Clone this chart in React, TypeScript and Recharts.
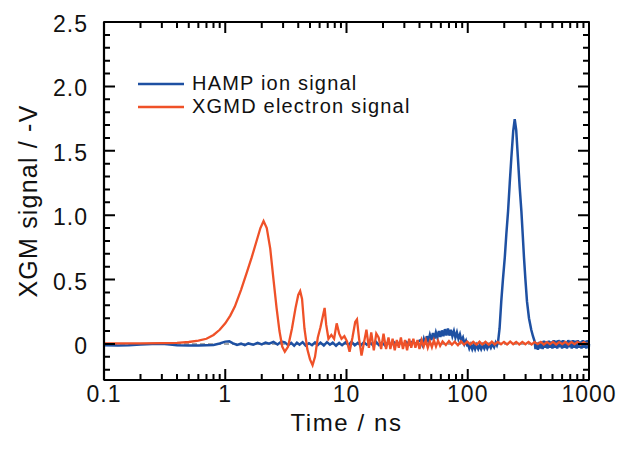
import { LineChart, Line, XAxis, YAxis, ReferenceLine, Legend } from "recharts";

// time in ns, signal in -V
const hampStart = [
  [0.1, -0.01], [0.13, -0.012], [0.16, -0.01], [0.2, -0.004], [0.25, 0], [0.3, 0.002],
  [0.35, -0.004], [0.4, -0.01], [0.5, -0.012], [0.6, -0.013], [0.7, -0.01], [0.8, -0.008],
  [0.9, 0.004], [1.0, 0.018], [1.08, 0.02], [1.15, 0.006], [1.25, -0.008], [1.35, 0.002],
  [1.45, -0.01], [1.55, 0.004], [1.7, -0.006], [1.85, 0.008], [2.0, -0.004], [2.15, 0.01],
  [2.3, 0.002], [2.5, 0.016], [2.7, -0.004], [2.9, 0.018],
];

const hampNoise = [
  [3.1, 0.012], [3.3, -0.01], [3.5, 0.008], [3.7, -0.014], [3.9, 0.01], [4.1, -0.006],
  [4.35, 0.014], [4.6, -0.012], [4.9, 0.006], [5.2, -0.01], [5.5, 0.012], [5.8, -0.008],
  [6.1, 0.01], [6.5, -0.012], [6.9, 0.014], [7.3, -0.006], [7.7, 0.01], [8.2, -0.014],
  [8.7, 0.008], [9.2, -0.01], [9.8, 0.012], [10.4, -0.008], [11, 0.016], [11.7, -0.01],
  [12.4, 0.008], [13.1, -0.012], [13.9, 0.014], [14.7, -0.006], [15.6, 0.012], [16.5, -0.01],
  [17.5, 0.016], [18.5, -0.008], [19.6, 0.01], [20.8, -0.012], [22, 0.014], [23.3, -0.006],
  [24.7, 0.012], [26.2, -0.004], [27.8, 0.016], [29.4, -0.008], [31.2, 0.014], [33, -0.004],
  [35, 0.018], [37, 0.0], [39.2, 0.02],
];

const hampBump = [
  [41, 0.03], [42.2, -0.005], [43.4, 0.04], [44.7, 0.0], [46, 0.06], [47.3, 0.02],
  [48.7, 0.07], [50.1, 0.03], [51.6, 0.085], [53.1, 0.04], [54.6, 0.09], [56.2, 0.05],
  [57.8, 0.1], [59.5, 0.055], [61.2, 0.105], [63, 0.06], [64.8, 0.115], [66.7, 0.065],
  [68.6, 0.12], [70.6, 0.065], [72.6, 0.11], [74.7, 0.06], [76.9, 0.1], [79.1, 0.05],
  [81.4, 0.09], [83.8, 0.04], [86.2, 0.075], [88.7, 0.025], [91.3, 0.05], [94, 0.0],
  [96.7, 0.025], [99.5, -0.02],
];

const hampDip = [
  [100.5, 0.0], [103, -0.035], [106, -0.005], [109, -0.04], [112, -0.01], [115, -0.04],
  [118, -0.008], [122, -0.038], [125, -0.01], [129, -0.04], [133, -0.008], [137, -0.035],
  [141, -0.005], [145, -0.035], [150, -0.005], [155, -0.03], [160, 0.0], [165, -0.025],
  [170, 0.01], [174, -0.01],
];

const hampPeak = [
  [178, 0.02], [183, 0.12], [189, 0.33], [195, 0.5], [202, 0.67], [208, 0.85],
  [215, 1.03], [222, 1.25], [229, 1.45], [237, 1.65], [244, 1.745], [251, 1.66],
  [259, 1.45], [268, 1.22], [277, 1.03], [284, 0.85], [291, 0.67], [299, 0.5],
  [308, 0.33], [320, 0.2], [334, 0.11], [345, 0.06], [356, 0.02],
];

const hampTail = [
  [362, -0.04], [370, 0.01], [379, -0.045], [388, 0.015], [397, -0.035], [406, 0.02],
  [415, -0.04], [425, 0.025], [435, -0.03], [445, 0.02], [455, -0.035], [466, 0.025],
  [477, -0.03], [488, 0.02], [499, -0.035], [511, 0.03], [523, -0.03], [535, 0.025],
  [547, -0.035], [560, 0.03], [573, -0.025], [586, 0.025], [600, -0.035], [614, 0.03],
  [628, -0.03], [643, 0.02], [658, -0.035], [673, 0.03], [689, -0.025], [705, 0.025],
  [721, -0.035], [738, 0.03], [755, -0.03], [773, 0.025], [791, -0.035], [809, 0.03],
  [828, -0.03], [847, 0.02], [867, -0.035], [887, 0.03], [908, -0.03], [929, 0.025],
  [951, -0.035], [973, 0.03], [995, -0.03], [1000, 0.0],
];

const xgmdPulse = [
  [0.1, 0.004], [0.2, 0.005], [0.3, 0.006], [0.4, 0.008], [0.5, 0.015], [0.6, 0.025],
  [0.7, 0.04], [0.8, 0.07], [0.9, 0.11], [1.0, 0.16], [1.1, 0.22], [1.2, 0.29],
  [1.35, 0.42], [1.5, 0.55], [1.65, 0.67], [1.8, 0.79], [1.95, 0.9], [2.07, 0.955],
  [2.2, 0.9], [2.35, 0.74], [2.5, 0.5], [2.65, 0.28], [2.8, 0.1], [2.95, -0.02],
  [3.1, -0.06], [3.3, -0.02], [3.55, 0.12], [3.8, 0.28], [4.0, 0.38], [4.15, 0.41],
  [4.3, 0.35], [4.5, 0.12], [4.75, -0.04], [5.0, -0.12], [5.25, -0.165], [5.5, -0.1],
  [5.8, 0.05], [6.1, 0.13], [6.4, 0.22], [6.6, 0.28], [6.8, 0.15], [7.1, 0.04],
];

const xgmdRinging = [
  [7.5, 0.07], [7.9, 0.04], [8.3, 0.16], [8.7, 0.08], [9.1, 0.04], [9.6, 0.06],
  [10.1, 0.02], [10.6, -0.06], [11.2, 0.05], [11.8, 0.17], [12.2, 0.19], [12.7, 0.04],
  [13.3, -0.09], [14, 0.02], [14.6, 0.11], [15.3, -0.03], [16, 0.09], [16.8, -0.05],
  [17.6, 0.08], [18.4, 0.05], [19.3, -0.04], [20.2, 0.08], [21.2, -0.04], [22.2, 0.05],
];

const xgmdTail = [
  [23, -0.04], [24, 0.04], [25, -0.05], [26, 0.03], [27, -0.03], [28.1, 0.05],
  [29.2, -0.04], [30.4, 0.03], [31.6, -0.05], [32.9, 0.04], [34.2, -0.03], [35.6, 0.04],
  [37, -0.03], [38.5, 0.03], [40, -0.04], [41.6, 0.03], [43.3, -0.02], [45, 0.03],
  [46.8, -0.03], [48.7, 0.02], [50.6, -0.025], [52.6, 0.03], [54.7, -0.02], [56.9, 0.025],
  [59.2, -0.015], [62, 0.02], [66, -0.008], [70, 0.022], [74, -0.006], [78, 0.018],
  [83, -0.01], [88, 0.02], [93, -0.006], [99, 0.018], [105, -0.004], [111, 0.016],
  [118, -0.006], [125, 0.018], [132, -0.004], [140, 0.016], [149, -0.006], [158, 0.018],
  [167, -0.004], [177, 0.016], [188, -0.002], [199, 0.016], [211, -0.004], [224, 0.018],
  [237, -0.002], [251, 0.016], [266, -0.004], [282, 0.016], [299, -0.002], [317, 0.016],
  [336, -0.004], [356, 0.014], [378, -0.002], [400, 0.016], [424, -0.004], [450, 0.014],
  [477, -0.002], [505, 0.016], [536, -0.004], [568, 0.014], [602, -0.002], [638, 0.016],
  [676, -0.004], [717, 0.014], [760, -0.002], [806, 0.016], [854, -0.004], [905, 0.014],
  [960, -0.002], [1000, 0.008],
];

const xTicks = [
  0.1, 0.2, 0.3, 0.4, 0.5, 0.6, 0.7, 0.8, 0.9,
  1, 2, 3, 4, 5, 6, 7, 8, 9,
  10, 20, 30, 40, 50, 60, 70, 80, 90,
  100, 200, 300, 400, 500, 600, 700, 800, 900, 1000,
];
const xLabels = [0.1, 1, 10, 100, 1000];
const yTicks = [
  -0.2, -0.1, 0, 0.1, 0.2, 0.3, 0.4, 0.5, 0.6, 0.7, 0.8, 0.9, 1.0, 1.1, 1.2, 1.3,
  1.4, 1.5, 1.6, 1.7, 1.8, 1.9, 2.0, 2.1, 2.2, 2.3, 2.4, 2.5,
];
const yLabels = [0, 0.5, 1.0, 1.5, 2.0, 2.5];
const X_DOMAIN = [0.1, 1000];
const Y_DOMAIN = [-0.28, 2.5];

// chart box
const W = 620;
const H = 460;
const MARGIN = { top: 22, right: 31, bottom: 0, left: 0 };
const Y_AXIS_W = 104;
const X_AXIS_H = 80;
const PLOT_W = W - MARGIN.left - MARGIN.right - Y_AXIS_W;
const PLOT_H = H - MARGIN.top - MARGIN.bottom - X_AXIS_H;

const toRows = (pts: number[][]) => pts.map(([t, v]) => ({ t, v }));
const hampData = toRows([...hampStart, ...hampNoise, ...hampBump, ...hampDip, ...hampPeak, ...hampTail]);
const xgmdData = toRows([...xgmdPulse, ...xgmdRinging, ...xgmdTail]);

// inward tick marks, drawn as line series that run along each frame edge
const MAJOR = 11;
const MINOR = 6;
const yPerPx = (Y_DOMAIN[1] - Y_DOMAIN[0]) / PLOT_H;
const decPerPx = Math.log10(X_DOMAIN[1] / X_DOMAIN[0]) / PLOT_W;
const xLen = (t: number) => (xLabels.includes(t) ? MAJOR : MINOR);
const yLen = (v: number) => (yLabels.includes(v) ? MAJOR : MINOR);

const bottomTicks = xTicks.flatMap((t) => [
  { t, v: Y_DOMAIN[0] },
  { t, v: Y_DOMAIN[0] + xLen(t) * yPerPx },
  { t, v: Y_DOMAIN[0] },
]);
const topTicks = xTicks.flatMap((t) => [
  { t, v: Y_DOMAIN[1] },
  { t, v: Y_DOMAIN[1] - xLen(t) * yPerPx },
  { t, v: Y_DOMAIN[1] },
]);
const leftTicks = yTicks.flatMap((v) => [
  { t: X_DOMAIN[0], v },
  { t: X_DOMAIN[0] * Math.pow(10, yLen(v) * decPerPx), v },
  { t: X_DOMAIN[0], v },
]);
const rightTicks = yTicks.flatMap((v) => [
  { t: X_DOMAIN[1], v },
  { t: X_DOMAIN[1] / Math.pow(10, yLen(v) * decPerPx), v },
  { t: X_DOMAIN[1], v },
]);
const tickSeries = [
  { id: "bottom", data: bottomTicks },
  { id: "top", data: [{ t: X_DOMAIN[0], v: Y_DOMAIN[1] }, ...topTicks] },
  { id: "left", data: leftTicks },
  { id: "right", data: [{ t: X_DOMAIN[1], v: Y_DOMAIN[0] }, ...rightTicks] },
];

const FONT = "'Liberation Sans', Arial, sans-serif";
const BLUE = "#1e50a2";
const RED = "#ef5128";

function XLabel(p: any) {
  return (
    <text x={p.x} y={Number(p.y) + 22} textAnchor="middle" fontSize={23} fontFamily={FONT} letterSpacing={1} fill="#111">
      {String(p.payload.value)}
    </text>
  );
}

function YLabel(p: any) {
  const v = p.payload.value;
  return (
    <text x={Number(p.x) - 16} y={Number(p.y) + 2} textAnchor="end" dominantBaseline="central" fontSize={23} fontFamily={FONT} letterSpacing={1} fill="#111">
      {v === 0 ? "0" : v.toFixed(1)}
    </text>
  );
}

function renderLegend(props: any) {
  const items = (props.payload || []).filter((e: any) => e.type !== "none");
  return (
    <div style={{ display: "flex", flexDirection: "column" }}>
      {items.map((e: any) => (
        <div key={e.value} style={{ display: "flex", alignItems: "center", height: 23 }}>
          <svg width={46} height={4}>
            <line x1={0} y1={2} x2={46} y2={2} stroke={e.color} strokeWidth={2.5} />
          </svg>
          <span style={{ marginLeft: 8, fontSize: 20, letterSpacing: 1.2, fontFamily: FONT, color: "#111" }}>
            {e.value}
          </span>
        </div>
      ))}
    </div>
  );
}

export default function App() {
  const axisLine = { stroke: "#000", strokeWidth: 2.2 };
  return (
    <div style={{ position: "absolute", left: 0, top: 0, background: "#fff" }}>
      <LineChart width={W} height={H} margin={MARGIN}>
        <XAxis
          dataKey="t"
          type="number"
          scale="log"
          domain={X_DOMAIN}
          ticks={xLabels}
          interval={0}
          tickSize={0}
          tickMargin={0}
          tickLine={false}
          tick={(p: any) => <XLabel {...p} />}
          axisLine={axisLine}
          height={X_AXIS_H}
          label={{ value: "Time / ns", position: "insideBottom", offset: 29, fontSize: 24, fontFamily: FONT, letterSpacing: 1.6, fill: "#111" }}
        />
        <YAxis
          type="number"
          domain={Y_DOMAIN}
          ticks={yLabels}
          interval={0}
          tickSize={0}
          tickMargin={0}
          tickLine={false}
          tick={(p: any) => <YLabel {...p} />}
          axisLine={axisLine}
          width={Y_AXIS_W}
          label={{ value: "XGM signal / -V", angle: -90, position: "insideLeft", offset: 28, fontSize: 25, fontFamily: FONT, letterSpacing: 1.2, fill: "#111", style: { textAnchor: "middle" } }}
        />
        <Legend
          layout="horizontal"
          verticalAlign="middle"
          align="center"
          content={renderLegend}
          wrapperStyle={{ left: 138, top: 72, width: "auto", height: "auto" }}
        />
        <ReferenceLine y={0} stroke="#8c8c8c" strokeWidth={1.5} strokeDasharray="5 3" />
        <Line
          data={hampData}
          dataKey="v"
          name="HAMP ion signal"
          stroke={BLUE}
          strokeWidth={2.5}
          dot={false}
          activeDot={false}
          isAnimationActive={false}
        />
        <Line
          data={xgmdData}
          dataKey="v"
          name="XGMD electron signal"
          stroke={RED}
          strokeWidth={2.3}
          dot={false}
          activeDot={false}
          isAnimationActive={false}
        />
        {tickSeries.map((s) => (
          <Line
            key={s.id}
            data={s.data}
            dataKey="v"
            name={`ticks-${s.id}`}
            legendType="none"
            stroke="#000"
            strokeWidth={2}
            strokeLinejoin="bevel"
            dot={false}
            activeDot={false}
            isAnimationActive={false}
          />
        ))}
      </LineChart>
    </div>
  );
}
